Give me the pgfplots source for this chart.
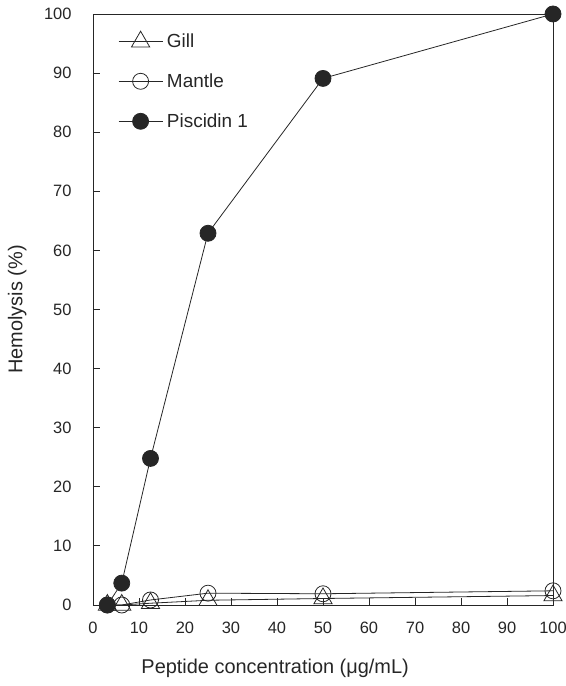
\documentclass[border=0pt]{standalone}
\usepackage{fontspec}
\setmainfont{Liberation Sans}
\usepackage{pgfplots}
\pgfplotsset{compat=1.18}
\begin{document}
\begin{tikzpicture}
\begin{axis}[
  name=ax,
  scale only axis,
  width=460bp, height=591bp,
  xmin=0, xmax=100, ymin=0, ymax=100,
  xtick={0,10,...,100}, ytick={0,10,...,100},
  tick align=inside,
  xtick pos=bottom, ytick pos=left,
  major tick length=7bp,
  axis line style={line width=0.9bp, black!85},
  tick style={line width=0.8bp, black!85},
  clip=false,
  /pgf/number format/assume math mode=true,
  ticklabel style={font=\fontsize{16.5}{18}\selectfont, text=black!85},
  xticklabel style={yshift=-14bp},
  yticklabel style={xshift=-18bp},
  xlabel={Peptide concentration (μg/mL)},
  ylabel={Hemolysis (\%)},
  label style={font=\fontsize{20}{23}\selectfont, text=black!85},
  xlabel style={at={(axis description cs:0.396,-0.1066)}, anchor=center},
  ylabel style={at={(axis description cs:-0.165,0.5)}, anchor=center},
  legend style={draw=none, fill=none, at={(axis description cs:0,1)}, anchor=north west,
    xshift=25bp, yshift=-17bp, inner sep=0pt, row sep=24bp, column sep=4bp,
    font=\fontsize{19}{22}\selectfont, nodes={inner sep=0pt, text=black!85}},
  legend cell align=left,
  legend image code/.code={\draw[mark repeat=2,mark phase=2] plot coordinates {(0bp,0bp) (22bp,0bp) (44bp,0bp)};},
]
\addplot[black!85, line width=0.8bp, mark=triangle, mark size=10.5bp, mark options={solid}]
  coordinates {(3.125,0) (6.25,0) (12.5,0.3) (25,0.8) (50,1.1) (100,1.6)};
\addlegendentry{Gill}
\addplot[black!85, line width=0.8bp, mark=o, mark size=8bp, mark options={solid}]
  coordinates {(3.125,0) (6.25,0) (12.5,0.85) (25,2.0) (50,1.9) (100,2.4)};
\addlegendentry{Mantle}
\addplot[black!85, line width=0.8bp, mark=*, mark size=8bp, mark options={solid, fill=black!85}]
  coordinates {(3.125,0) (6.25,3.7) (12.5,24.8) (25,62.9) (50,89.1) (100,100)};
\addlegendentry{Piscidin 1}
\end{axis}
\pgfresetboundingbox
\path ([shift={(-93bp,-81bp)}]ax.south west) rectangle ([shift={(13bp,14bp)}]ax.north east);
\end{tikzpicture}
\end{document}
